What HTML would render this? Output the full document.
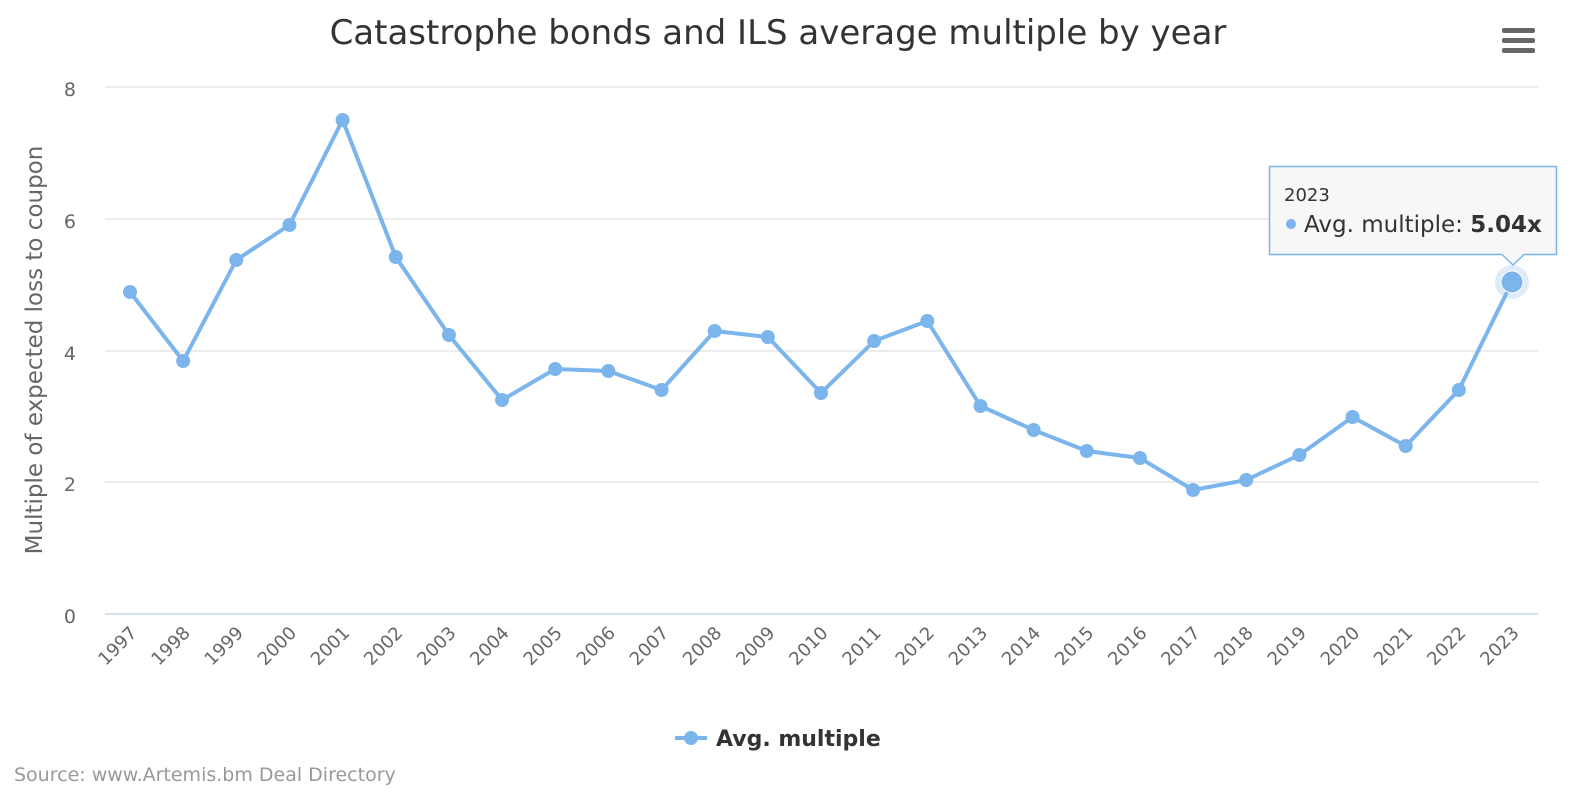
<!DOCTYPE html>
<html><head><meta charset="utf-8"><style>
html,body{margin:0;padding:0;background:#fff;}
svg text{font-family:"DejaVu Sans","Liberation Sans",sans-serif;}
</style></head><body>
<svg width="1576" height="796" xmlns="http://www.w3.org/2000/svg">
<rect width="1576" height="796" fill="#fff"/>
<text x="778" y="44" text-anchor="middle" font-size="34" fill="#333">Catastrophe bonds and ILS average multiple by year</text>
<g fill="#666"><rect x="1502" y="28" width="33" height="5" rx="2"/><rect x="1502" y="38" width="33" height="5" rx="2"/><rect x="1502" y="48" width="33" height="5" rx="2"/></g>
<g stroke="#e6e6e6" stroke-width="1.5">
<line x1="105" y1="87" x2="1538" y2="87"/><line x1="105" y1="219" x2="1538" y2="219"/><line x1="105" y1="351" x2="1538" y2="351"/><line x1="105" y1="482" x2="1538" y2="482"/>
</g>
<line x1="105" y1="614" x2="1538" y2="614" stroke="#ccd6eb" stroke-width="1.5"/>
<g font-size="19" fill="#666" text-anchor="end">
<text x="76" y="96">8</text><text x="76" y="228">6</text><text x="76" y="360">4</text><text x="76" y="491">2</text><text x="76" y="623">0</text>
</g>
<text transform="translate(42,350) rotate(-90)" text-anchor="middle" font-size="23" fill="#666">Multiple of expected loss to coupon</text>
<g id="xl" font-size="18" fill="#666" text-anchor="end"></g>
<polyline id="ln" fill="none" stroke="#7cb5ec" stroke-width="4" stroke-linejoin="round"/>
<g id="pts" fill="#7cb5ec"></g>
<circle cx="1512" cy="282" r="17" fill="#7cb5ec" opacity="0.25"/>
<circle cx="1512" cy="282" r="11" fill="#7cb5ec" stroke="#fff" stroke-width="1"/>
<path d="M1269.5 166.5 H1556.5 V254.5 H1524 L1513 265 L1502 254.5 H1269.5 Z" fill="#f7f7f7" fill-opacity="0.95" stroke="#7cb5ec" stroke-width="1.5"/>
<text x="1284" y="201" font-size="18" fill="#333">2023</text>
<circle cx="1291" cy="224" r="5" fill="#7cb5ec"/>
<text x="1304" y="232" font-size="23" fill="#333">Avg. multiple: <tspan font-weight="bold">5.04x</tspan></text>
<line x1="675" y1="738" x2="707" y2="738" stroke="#7cb5ec" stroke-width="4"/>
<circle cx="691" cy="738" r="7" fill="#7cb5ec"/>
<text x="716" y="746" font-size="22" font-weight="bold" fill="#333">Avg. multiple</text>
<text x="14" y="781" font-size="19" fill="#999">Source: www.Artemis.bm Deal Directory</text>
</svg>
<script>
var ys=[292,361,260,225,120,257,335,400,369,371,390,331,337,393,341,321,406,430,451,458,490,480,455,417,446,390,282];
var ns="http://www.w3.org/2000/svg",pts=[],g=document.getElementById('pts'),xl=document.getElementById('xl');
for(var i=0;i<27;i++){var x=130+i*(1382/26);pts.push(x+','+ys[i]);
if(i<26){var c=document.createElementNS(ns,'circle');c.setAttribute('cx',x);c.setAttribute('cy',ys[i]);c.setAttribute('r',7);g.appendChild(c);}
var t=document.createElementNS(ns,'text');t.setAttribute('transform','translate('+(x+8)+',634) rotate(-45)');t.textContent=1997+i;xl.appendChild(t);}
document.getElementById('ln').setAttribute('points',pts.join(' '));
</script>
</body></html>
